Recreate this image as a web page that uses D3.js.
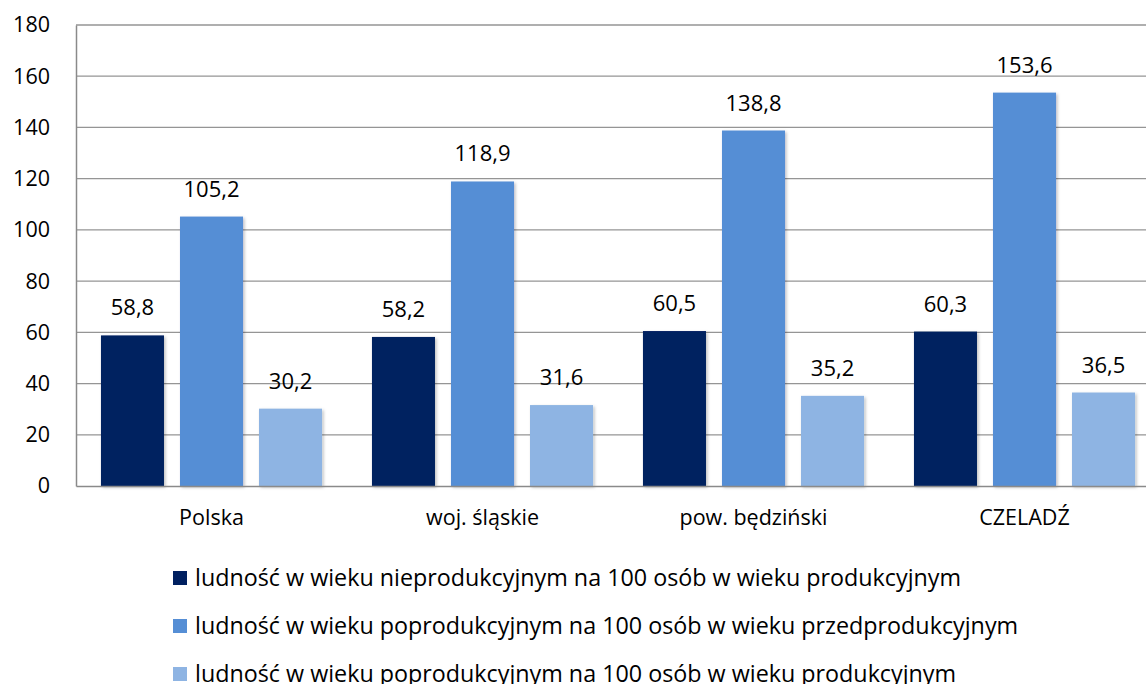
<!DOCTYPE html>
<html><head><meta charset="utf-8">
<script src="https://cdn.jsdelivr.net/npm/d3@7"></script>
<style>body{margin:0;background:#fff}svg{display:block}</style>
</head><body>
<script>
const categories = ["Polska", "woj. śląskie", "pow. będziński", "CZELADŹ"];
const seriesNames = [
  "ludność w wieku nieprodukcyjnym na 100 osób w wieku produkcyjnym",
  "ludność w wieku poprodukcyjnym na 100 osób w wieku przedprodukcyjnym",
  "ludność w wieku poprodukcyjnym na 100 osób w wieku produkcyjnym"
];
const series1 = [58.8, 58.2, 60.5, 60.3];
const series2 = [105.2, 118.9, 138.8, 153.6];
const series3 = [30.2, 31.6, 35.2, 36.5];
const yTicks = [0, 20, 40, 60, 80, 100, 120, 140, 160, 180];
const colors = ["#002060", "#558ED5", "#8EB4E3"];

const W = 1146, H = 684;
const m = {left: 76, top: 25, right: -14, bottom: 198};
const svg = d3.select("body").append("svg").attr("width", W).attr("height", H);
const font = "'Open Sans', 'Noto Sans', sans-serif";

const x = d3.scaleBand().domain(categories).range([m.left, W - m.right]).paddingInner(0).paddingOuter(0);
const inner = d3.scaleBand().domain([0,1,2]).range([0, x.bandwidth()]).paddingInner(0.2025).paddingOuter(0.316);
const y = d3.scaleLinear().domain([0, 180]).range([H - m.bottom, m.top]);

const defs = svg.append("defs");
const f = defs.append("filter").attr("id","sh").attr("x","-20%").attr("y","-20%").attr("width","140%").attr("height","140%");
f.append("feDropShadow").attr("dx",1.5).attr("dy",1.5).attr("stdDeviation",1.5).attr("flood-color","#000").attr("flood-opacity",0.25);

// gridlines
svg.append("g").selectAll("line").data(yTicks.filter(d=>d>0)).join("line")
  .attr("x1", m.left).attr("x2", W).attr("y1", d=>y(d)).attr("y2", d=>y(d))
  .attr("stroke", "#959595").attr("stroke-width", 1.3);

// y axis
const yAxis = svg.append("g").attr("transform", `translate(${m.left},0)`)
  .call(d3.axisLeft(y).tickValues(yTicks).tickSize(0).tickPadding(26));
yAxis.select(".domain").attr("stroke", "#8a8a8a").attr("stroke-width", 1.5);
yAxis.selectAll("text").attr("font-family", font).attr("font-size", 21.5).attr("fill", "#000");

const data = [series1, series2, series3];
const g = svg.append("g");
data.forEach((s, si) => {
  g.append("g").selectAll("rect").data(s).join("rect")
    .attr("x", (d,i)=>x(categories[i]) + inner(si))
    .attr("width", inner.bandwidth())
    .attr("y", d=>y(d)).attr("height", d=>y(0)-y(d))
    .attr("fill", colors[si]).attr("filter","url(#sh)");
  g.append("g").selectAll("text").data(s).join("text")
    .attr("x", (d,i)=>x(categories[i]) + inner(si) + inner.bandwidth()/2)
    .attr("y", d=>y(d) - 20)
    .attr("text-anchor","middle")
    .attr("font-family", font).attr("font-size", 22).attr("fill","#000")
    .text(d=>d.toFixed(1).replace(".", ","));
});

// x axis baseline
const xAxis = svg.append("g").attr("transform", `translate(0,${y(0)})`)
  .call(d3.axisBottom(x).tickSize(0).tickPadding(24));
xAxis.select(".domain").attr("stroke", "#8a8a8a").attr("stroke-width", 1.5);
xAxis.selectAll("text").attr("font-family", font).attr("font-size", 21.5).attr("fill","#000");

// legend
const leg = svg.append("g");
seriesNames.forEach((n, i) => {
  const ly = 578 + i*48;
  leg.append("rect").attr("x", 173).attr("y", ly-7).attr("width", 14).attr("height", 14).attr("fill", colors[i]);
  leg.append("text").attr("x", 195).attr("y", ly).attr("dy","0.35em")
    .attr("font-family", font).attr("font-size", 23.3).attr("fill","#000").text(n);
});
</script>
</body></html>
